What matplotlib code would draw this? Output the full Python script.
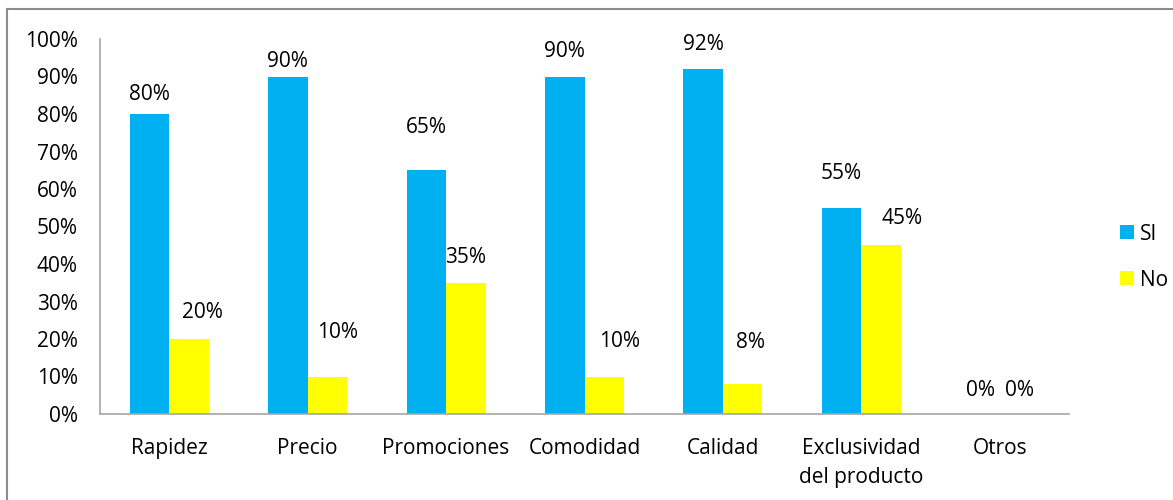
import matplotlib
matplotlib.use("Agg")
import matplotlib.pyplot as plt
from matplotlib.lines import Line2D
import numpy as np

# Survey results per attribute
categories = ["Rapidez", "Precio", "Promociones", "Comodidad", "Calidad",
              "Exclusividad\ndel producto", "Otros"]
si_values = [0.80, 0.90, 0.65, 0.90, 0.92, 0.55, 0.00]
no_values = [0.20, 0.10, 0.35, 0.10, 0.08, 0.45, 0.00]
series_names = ["SI", "No"]
y_ticks = [0.0, 0.1, 0.2, 0.3, 0.4, 0.5, 0.6, 0.7, 0.8, 0.9, 1.0]

# Hand-placed label nudges (pixels) for each bar's value label
si_label_shift = [(0, 19), (0, 15), (0, 43), (0, 25), (0, 24), (0, 34), (0, 24)]
no_label_shift = [(13, 26), (10, 44), (0, 25), (15, 35), (8, 42), (21, 27), (0, 24)]

plt.rcParams["font.family"] = ["Open Sans", "DejaVu Sans"]
FS = 15
W, H, DPI = 1173, 500, 100

fig = plt.figure(figsize=(W / DPI, H / DPI), dpi=DPI)
ax = fig.add_axes([100 / W, 1 - 414 / H, (1069 - 100) / W, (414 - 39) / H])

x = np.arange(len(categories))
bw = 0.285
blue = "#00B0F0"
yellow = "#FFFF00"

b1 = ax.bar(x - bw / 2, si_values, bw, color=blue, label=series_names[0])
b2 = ax.bar(x + bw / 2, no_values, bw, color=yellow, label=series_names[1])

for rect, v, (dx, dy) in zip(b1, si_values, si_label_shift):
    ax.annotate(f"{v:.0%}", (rect.get_x() + rect.get_width() / 2, v),
                xytext=(dx, dy), textcoords="offset pixels",
                ha="center", va="center", fontsize=FS, color="#000000")
for rect, v, (dx, dy) in zip(b2, no_values, no_label_shift):
    ax.annotate(f"{v:.0%}", (rect.get_x() + rect.get_width() / 2, v),
                xytext=(dx, dy), textcoords="offset pixels",
                ha="center", va="center", fontsize=FS, color="#000000")

ax.set_xlim(-0.5, len(categories) - 0.5)
ax.set_ylim(0, 1)
ax.set_yticks(y_ticks)
ax.set_yticklabels([f"{t:.0%}" for t in y_ticks])
ax.set_xticks(x)
ax.set_xticklabels(categories, linespacing=1.5)
ax.tick_params(axis="both", length=0, labelsize=FS, colors="#000000")
ax.tick_params(axis="y", pad=16)
ax.tick_params(axis="x", pad=17)
for lab in ax.get_xticklabels():
    lab.set_verticalalignment("top")

for side in ("top", "right"):
    ax.spines[side].set_visible(False)
for side in ("left", "bottom"):
    ax.spines[side].set_color("#A6A6A6")
    ax.spines[side].set_linewidth(1.2)

fig.legend(handles=[b1, b2], loc="center left",
           bbox_to_anchor=(1110 / W, 1 - 257 / H), frameon=False,
           fontsize=FS, handlelength=0.65, handleheight=0.65,
           handletextpad=0.3, labelspacing=1.2, borderpad=0)

# outer chart border (top and left edges)
fig.add_artist(Line2D([7 / W, 1.0], [1 - 9 / H, 1 - 9 / H],
                      transform=fig.transFigure, color="#8C8C8C", lw=1.5))
fig.add_artist(Line2D([7 / W, 7 / W], [0.0, 1 - 9 / H],
                      transform=fig.transFigure, color="#8C8C8C", lw=1.5))

fig.savefig("out.png", dpi=DPI, facecolor="white")
